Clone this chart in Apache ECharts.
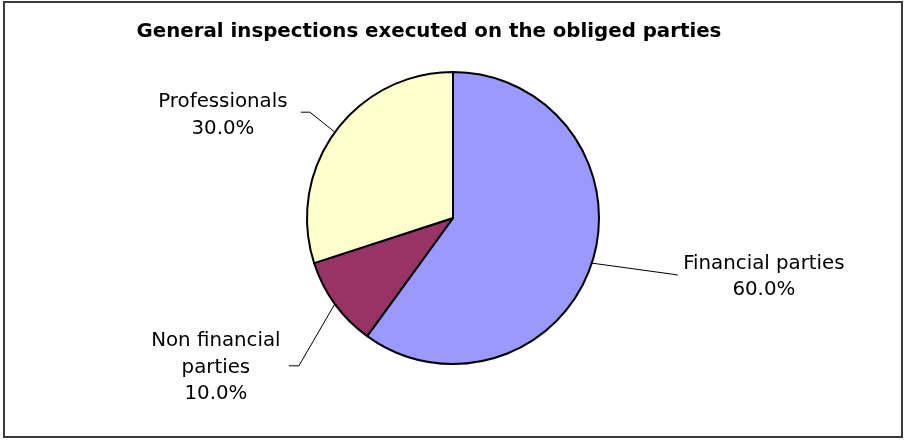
<!DOCTYPE html>
<html>
<head>
<meta charset="utf-8">
<title>General inspections executed on the obliged parties</title>
<script src="https://cdn.jsdelivr.net/npm/echarts@6/dist/echarts.min.js"></script>
<style>
  html, body { margin: 0; padding: 0; background: #ffffff; }
  #chart { width: 904px; height: 440px; }
</style>
</head>
<body>
<div id="chart"></div>
<script>
// Inspection categories and their counts (shares of the total)
const categories = ['Financial parties', 'Non financial parties', 'Professionals'];
const values = [60, 10, 30];
// Text shown in each slice label (line breaks as drawn)
const labelNames = ['Financial parties', 'Non financial\nparties', 'Professionals'];

const sliceColors = ['#9999FF', '#993366', '#FFFFCC'];

// Leader geometry for each label, relative to the slice edge point:
// elbow and end of the leader line, then the label centre relative to the end.
const leaderStyle = [
  { elbow: [80, 11], end: [86, 12], text: [86, 2] },
  { elbow: [-36, 62], end: [-46, 62], text: [-73, 2] },
  { elbow: [-25, -20], end: [-34, -20], text: [-78, 3] }
];

const chart = echarts.init(document.getElementById('chart'), null, { renderer: 'canvas' });

chart.setOption({
  animation: false,
  backgroundColor: '#ffffff',
  title: {
    text: 'General inspections executed on the obliged parties',
    left: 424,
    top: 17,
    textAlign: 'center',
    textStyle: {
      fontFamily: 'DejaVu Sans',
      fontWeight: 'bold',
      fontSize: 19.8,
      color: '#000000'
    }
  },
  graphic: [{
    type: 'rect',
    shape: { x: 4, y: 2, width: 898, height: 435 },
    style: { fill: 'none', stroke: '#3a3a3a', lineWidth: 2 },
    silent: true
  }],
  series: [{
    type: 'pie',
    center: [453, 218],
    radius: 146,
    startAngle: 90,
    clockwise: true,
    avoidLabelOverlap: false,
    itemStyle: { borderColor: '#000000', borderWidth: 2 },
    label: {
      show: true,
      position: 'outside',
      fontFamily: 'DejaVu Sans',
      fontSize: 19.8,
      lineHeight: 26.5,
      color: '#000000',
      align: 'center',
      formatter: function (p) {
        return labelNames[p.dataIndex] + '\n' + p.percent.toFixed(1) + '%';
      }
    },
    labelLine: {
      show: true,
      length: 20,
      length2: 10,
      lineStyle: { color: '#000000', width: 1 }
    },
    labelLayout: function (params) {
      const s = leaderStyle[params.dataIndex];
      const p0 = params.labelLinePoints[0];
      const elbow = [p0[0] + s.elbow[0], p0[1] + s.elbow[1]];
      const end = [p0[0] + s.end[0], p0[1] + s.end[1]];
      return {
        x: end[0] + s.text[0],
        y: end[1] + s.text[1],
        align: 'center',
        verticalAlign: 'middle',
        labelLinePoints: [p0, elbow, end]
      };
    },
    data: categories.map(function (name, i) {
      return { name: name, value: values[i], itemStyle: { color: sliceColors[i] } };
    })
  }]
});
</script>
</body>
</html>
